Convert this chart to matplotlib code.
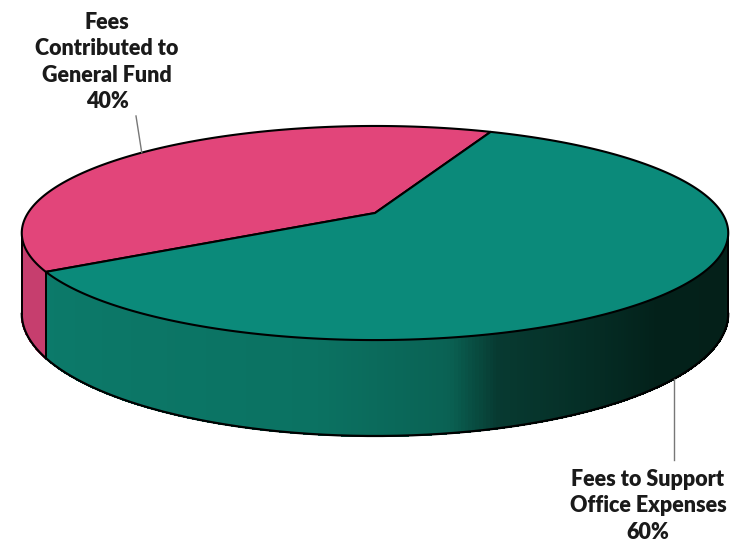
import numpy as np
import matplotlib
matplotlib.use("Agg")
import matplotlib.pyplot as plt
from matplotlib.collections import PolyCollection

labels = ["Fees\nContributed to\nGeneral Fund", "Fees to Support\nOffice Expenses"]
values = [40, 60]
top_colors = ["#e2457a", "#0b8a7a"]
start_angle = 67.0

# pseudo-perspective ellipse
cx, cy = 375.0, 213.0
a, b = 347.0, 103.3
k = 0.187
depth = 78.0


def proj(phi_deg, d=0.0):
    phi = np.radians(phi_deg)
    X, Y = np.cos(phi), np.sin(phi)
    s = 1.0 / (1.0 + k * Y)
    return cx + a * X * s, cy - b * Y * s + d * s


def lerp_color(phi, stops):
    angs = [p for p, _ in stops]
    rgb = np.array([matplotlib.colors.to_rgb(c) for _, c in stops])
    return tuple(np.interp(phi, angs, rgb[:, i]) for i in range(3))


side_stops = [
    [(180, "#c63e6e"), (215, "#c63e6e")],
    [(180, "#0d7f6f"), (262, "#0b7262"), (280, "#0a6254"), (287, "#073a31"),
     (315, "#03211a"), (340, "#042019"), (360, "#06281f")],
]

fig = plt.figure(figsize=(7.4, 5.51), dpi=100)
ax = fig.add_axes([0, 0, 1, 1])
ax.set_xlim(0, 740)
ax.set_ylim(551, 0)
ax.axis("off")

total = sum(values)
bounds = []
ang = start_angle
for v in values:
    bounds.append((ang, ang + 360.0 * v / total))
    ang += 360.0 * v / total

sil_lo, sil_hi = 180 + np.degrees(np.arcsin(k)), 360 - np.degrees(np.arcsin(k))

# outer side walls, shaded by angle
for i, (t0, t1) in enumerate(bounds):
    for off in (0, 360):
        lo, hi = max(t0 - off, sil_lo), min(t1 - off, sil_hi)
        if hi <= lo:
            continue
        phis = np.linspace(lo, hi, int((hi - lo) * 2) + 2)
        quads, cols = [], []
        for p0, p1 in zip(phis[:-1], phis[1:]):
            x0, y0 = proj(p0)
            x1, y1 = proj(p1)
            x2, y2 = proj(p1, depth)
            x3, y3 = proj(p0, depth)
            quads.append([(x0, y0), (x1, y1), (x2, y2), (x3, y3)])
            cols.append(lerp_color((p0 + p1) / 2, side_stops[i]))
        ax.add_collection(PolyCollection(quads, facecolors=cols, edgecolors=cols,
                                         linewidths=0.8, antialiased=False,
                                         zorder=1))

# outline of the wall
phis = np.linspace(sil_lo, sil_hi, 400)
bx, by = proj(phis, depth)
ax.plot(bx, by, color="black", lw=1.6, zorder=2)
for p in (sil_lo, sil_hi, bounds[0][1]):
    x0, y0 = proj(p)
    x1, y1 = proj(p, depth)
    ax.plot([x0, x1], [y0, y1], color="black", lw=1.4, zorder=2)

# top faces
for (t0, t1), c in zip(bounds, top_colors):
    phis = np.linspace(t0, t1, 300)
    px, py = proj(phis)
    poly = np.vstack([[cx, cy], np.column_stack([px, py])])
    ax.fill(poly[:, 0], poly[:, 1], facecolor=c, edgecolor="black",
            lw=1.5, joinstyle="round", zorder=3)

# labels with leader lines
font = dict(family=["Lato", "DejaVu Sans"], fontweight="heavy", fontsize=15.5,
            color="#1a1a1a", ha="center", va="center", linespacing=1.3)
mid0 = (bounds[0][0] + bounds[0][1]) / 2
mx, my = proj(mid0)
ax.text(107, 62, f"{labels[0]}\n{values[0]}%", **font, zorder=5)
ax.plot([136, mx], [116, my], color="#777777", lw=1.0, zorder=4)

mid1 = (bounds[1][0] + bounds[1][1]) / 2
mx, my = proj(mid1, depth)
ax.text(648, 506, f"{labels[1]}\n{values[1]}%", **font, zorder=5)
ax.plot([mx, mx], [my, 460], color="#777777", lw=1.0, zorder=4)

fig.savefig("out.png", dpi=100)
